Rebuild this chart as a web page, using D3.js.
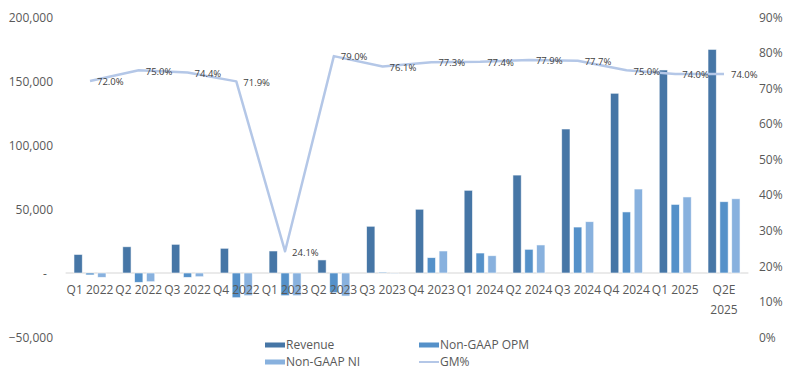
<!DOCTYPE html>
<html>
<head>
<meta charset="utf-8">
<script src="https://cdn.jsdelivr.net/npm/d3@7"></script>
<style>
    body { margin: 0; background: #fff; }
    #chart { width: 791px; height: 372px; }
    text { font-family: 'Open Sans', 'Noto Sans', sans-serif; }
</style>
</head>
<body>
<div id="chart"></div>
<script>
// 데이터
const categories = ['Q1 2022', 'Q2 2022', 'Q3 2022', 'Q4 2022', 'Q1 2023', 'Q2 2023', 'Q3 2023',
    'Q4 2023', 'Q1 2024', 'Q2 2024', 'Q3 2024', 'Q4 2024', 'Q1 2025', 'Q2E 2025'];
const revenue = [14500, 20500, 22400, 19300, 17200, 10200, 36500, 49800, 64600, 76500, 112500, 140400, 158600, 174700];
const opm = [-1500, -7300, -3400, -19300, -17700, -15400, 700, 12000, 15600, 18500, 35900, 47700, 53600, 55700];
const netIncome = [-3400, -6800, -2900, -17700, -17700, -18000, -300, 17200, 13500, 21900, 40100, 65600, 59400, 58000];
const gm = [72.0, 75.0, 74.4, 71.9, 24.1, 79.0, 76.1, 77.3, 77.4, 77.9, 77.7, 75.0, 74.0, 74.0];
const leftTicks = [-50000, 0, 50000, 100000, 150000, 200000];
const rightTicks = [0, 10, 20, 30, 40, 50, 60, 70, 80, 90];

const seriesNames = ['Revenue', 'Non-GAAP OPM', 'Non-GAAP NI'];
const seriesColors = ['#4676A6', '#5591C9', '#88B1DE'];
const lineColor = '#B4C7E7';

const width = 791, height = 372;
const plot = { left: 65.6, right: 748.4, top: 17, bottom: 337 };

const svg = d3.select('#chart').append('svg')
    .attr('width', width)
    .attr('height', height);

// 스케일
const x = d3.scaleBand().domain(categories).range([plot.left, plot.right]);
const xSub = d3.scaleBand().domain(seriesNames).range([-16, 16]).paddingInner(0.3);
const yLeft = d3.scaleLinear().domain([-50000, 200000]).range([plot.bottom, plot.top]);
const yRight = d3.scaleLinear().domain([0, 90]).range([plot.bottom, plot.top]);

// 왼쪽 축
const leftAxis = svg.append('g')
    .attr('transform', `translate(53,0)`)
    .call(d3.axisLeft(yLeft).tickValues(leftTicks).tickSize(0).tickPadding(0)
        .tickFormat(d => d === 0 ? '-  ' : d3.format(',')(d)));
leftAxis.select('.domain').remove();
leftAxis.selectAll('text')
    .style('font-size', '12px')
    .style('fill', '#595959')
    .attr('dy', '0.35em')
    .attr('xml:space', 'preserve');

// 오른쪽 축
const rightAxis = svg.append('g')
    .attr('transform', `translate(759,0)`)
    .call(d3.axisRight(yRight).tickValues(rightTicks).tickSize(0).tickPadding(0)
        .tickFormat(d => d + '%'));
rightAxis.select('.domain').remove();
rightAxis.selectAll('text')
    .style('font-size', '12px')
    .style('fill', '#595959')
    .attr('dy', '0.35em');

// 0 기준선
svg.append('line')
    .attr('x1', plot.left).attr('x2', plot.right)
    .attr('y1', yLeft(0)).attr('y2', yLeft(0))
    .style('stroke', '#E3E3E3')
    .style('stroke-width', 1.5);

// 막대
const barData = categories.map((c, i) => ({
    cat: c,
    values: [revenue[i], opm[i], netIncome[i]]
}));

const groups = svg.selectAll('.group')
    .data(barData)
    .join('g')
    .attr('class', 'group')
    .attr('transform', d => `translate(${x(d.cat) + x.bandwidth() / 2},0)`);

groups.selectAll('rect')
    .data(d => d.values.map((v, j) => ({ name: seriesNames[j], value: v, color: seriesColors[j] })))
    .join('rect')
    .attr('x', d => xSub(d.name))
    .attr('width', xSub.bandwidth())
    .attr('y', d => yLeft(Math.max(0, d.value)))
    .attr('height', d => Math.abs(yLeft(d.value) - yLeft(0)))
    .style('fill', d => d.color)
    .style('stroke', 'rgba(255,255,255,0.7)')
    .style('stroke-width', 0.8);

// x 축 라벨 (넓으면 두 줄로)
const xLabels = svg.append('g');
categories.forEach(c => {
    const cx = x(c) + x.bandwidth() / 2;
    const t = xLabels.append('text')
        .attr('x', cx)
        .attr('y', 294)
        .attr('text-anchor', 'middle')
        .style('font-size', '12px')
        .style('fill', '#595959')
        .text(c);
    if (t.node().getComputedTextLength() > x.bandwidth()) {
        const parts = c.split(' ');
        t.text(null);
        parts.forEach((p, k) => {
            t.append('tspan').attr('x', cx).attr('dy', k === 0 ? 0 : 20).text(p);
        });
    }
});

// GM% 선
const line = d3.line()
    .x((d, i) => x(categories[i]) + x.bandwidth() / 2)
    .y(d => yRight(d));

svg.append('path')
    .datum(gm)
    .attr('d', line)
    .style('fill', 'none')
    .style('stroke', lineColor)
    .style('stroke-width', 2.5)
    .style('stroke-linejoin', 'round');

// 데이터 라벨
svg.selectAll('.gm-label')
    .data(gm)
    .join('text')
    .attr('class', 'gm-label')
    .attr('x', (d, i) => x(categories[i]) + x.bandwidth() / 2 + 7)
    .attr('y', d => yRight(d) + 1)
    .attr('dy', '0.35em')
    .style('font-size', '9.5px')
    .style('fill', '#404040')
    .text(d => d.toFixed(1) + '%');

// 범례
const legendItems = [
    { name: 'Revenue', color: seriesColors[0], type: 'bar', x: 265, y: 345 },
    { name: 'Non-GAAP OPM', color: seriesColors[1], type: 'bar', x: 419, y: 345 },
    { name: 'Non-GAAP NI', color: seriesColors[2], type: 'bar', x: 265, y: 362 },
    { name: 'GM%', color: lineColor, type: 'line', x: 419, y: 362 }
];

const legend = svg.selectAll('.legend')
    .data(legendItems)
    .join('g')
    .attr('class', 'legend')
    .attr('transform', d => `translate(${d.x},${d.y})`);

legend.each(function(d) {
    const g = d3.select(this);
    if (d.type === 'bar') {
        g.append('rect').attr('x', 0).attr('y', -2.5).attr('width', 20).attr('height', 5)
            .style('fill', d.color);
    } else {
        g.append('line').attr('x1', 0).attr('x2', 20).attr('y1', 0).attr('y2', 0)
            .style('stroke', d.color).style('stroke-width', 2);
    }
    g.append('text')
        .attr('x', 21)
        .attr('dy', '0.35em')
        .style('font-size', '12px')
        .style('fill', '#595959')
        .text(d.name);
});
</script>
</body>
</html>
